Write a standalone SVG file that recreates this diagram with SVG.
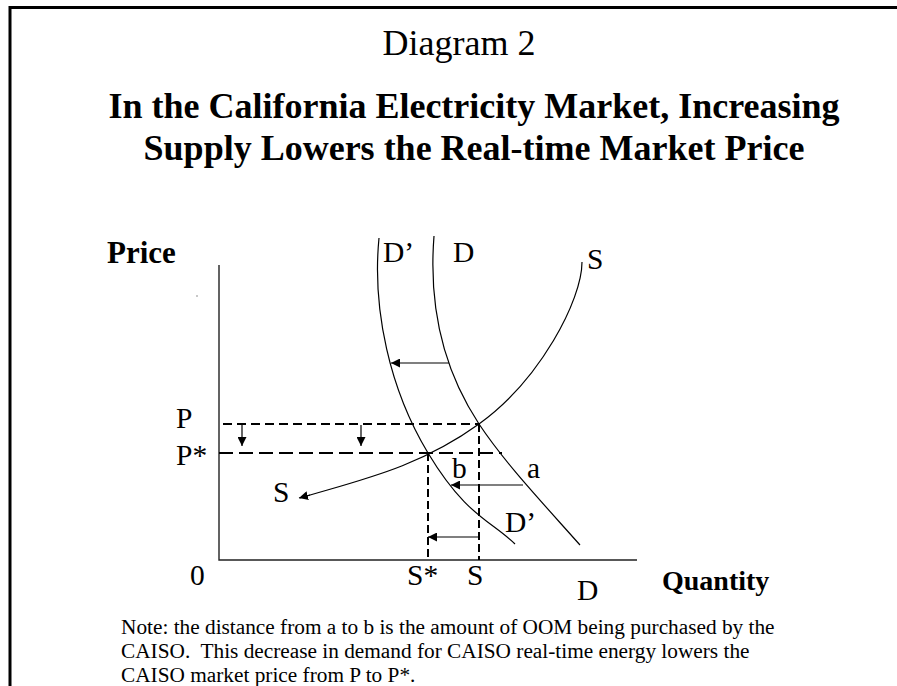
<svg xmlns="http://www.w3.org/2000/svg" width="897" height="686" viewBox="0 0 897 686">
<defs>
<style>
text{font-family:"Liberation Serif","Times New Roman",serif;fill:#000}
.lbl{font-size:29.5px}
.b{font-weight:bold}
.note{font-size:21.3px}
.curve{fill:none;stroke:#000;stroke-width:1.2}
.axis{fill:none;stroke:#222;stroke-width:1.4}
.dash{fill:none;stroke:#000;stroke-width:2}
.arr{fill:none;stroke:#000;stroke-width:1.2;marker-end:url(#ah)}
</style>
<marker id="ah" viewBox="0 0 10 10" refX="10" refY="5" markerWidth="9" markerHeight="9" markerUnits="userSpaceOnUse" orient="auto">
<path d="M0,0 L10,5 L0,10 Z" fill="#000"/>
</marker>
</defs>
<rect width="897" height="686" fill="#fff"/>
<path d="M10,686 V7.5 H897" fill="none" stroke="#000" stroke-width="3"/>
<g id="titles">
<text x="459" y="55" text-anchor="middle" style="font-size:36px">Diagram 2</text>
<text x="474" y="118" text-anchor="middle" class="b" style="font-size:36px">In the California Electricity Market, Increasing</text>
<text x="474" y="160" text-anchor="middle" class="b" style="font-size:36px">Supply Lowers the Real-time Market Price</text>
</g>
<g id="axes">
<path class="axis" d="M219,265 V560 H637"/>
<circle cx="197" cy="296" r="0.7" fill="#666"/>
<text x="107" y="263" class="b" style="font-size:31px">Price</text>
<text x="662" y="590" class="b" style="font-size:28px">Quantity</text>
<text x="190" y="585" class="lbl">0</text>
</g>
<g id="curve-D">
<path class="curve" d="M434,236 C429,300 440,365 479,424 C505,463 540,500 580,545"/>
<text x="453" y="262" class="lbl">D</text>
<text x="577" y="600" class="lbl">D</text>
</g>
<g id="curve-Dprime">
<path class="curve" d="M379,238 C372,310 390,390 428,453 S490,520 515,544"/>
<text x="383" y="262" class="lbl">D’</text>
<text x="505" y="532" class="lbl">D’</text>
</g>
<g id="curve-S">
<path class="curve" d="M582,262 C582,300 540,380 479,424 S360,480 300,498"/>
<path class="arr" d="M310,495 L299,498"/>
<text x="587" y="269" class="lbl">S</text>
<text x="273" y="502" class="lbl">S</text>
</g>
<g id="prices">
<path class="dash" d="M223,424 H479" stroke-dasharray="9,5"/>
<path class="dash" d="M219,453 H502" stroke-dasharray="14,6"/>
<text x="176" y="428" class="lbl">P</text>
<text x="176" y="465" class="lbl">P*</text>
</g>
<g id="quantities">
<path class="dash" d="M479,424 V560" stroke-dasharray="8,4"/>
<path class="dash" d="M428,453 V560" stroke-dasharray="8,4"/>
<text x="407" y="585" class="lbl">S*</text>
<text x="467" y="585" class="lbl">S</text>
</g>
<g id="points">
<text x="452" y="478" class="lbl">b</text>
<text x="527" y="478" class="lbl">a</text>
</g>
<g id="connectors">
<path class="arr" d="M242,425 V446"/>
<path class="arr" d="M361,425 V446"/>
<path class="arr" d="M449,363 H391"/>
<path class="arr" d="M523,485 H451"/>
<path class="arr" d="M479,537 H428"/>
</g>
<g id="note">
<text x="121" y="634" class="note">Note: the distance from a to b is the amount of OOM being purchased by the</text>
<text x="121" y="658" class="note" xml:space="preserve">CAISO.  This decrease in demand for CAISO real-time energy lowers the</text>
<text x="121" y="682" class="note">CAISO market price from P to P*.</text>
</g>
</svg>
